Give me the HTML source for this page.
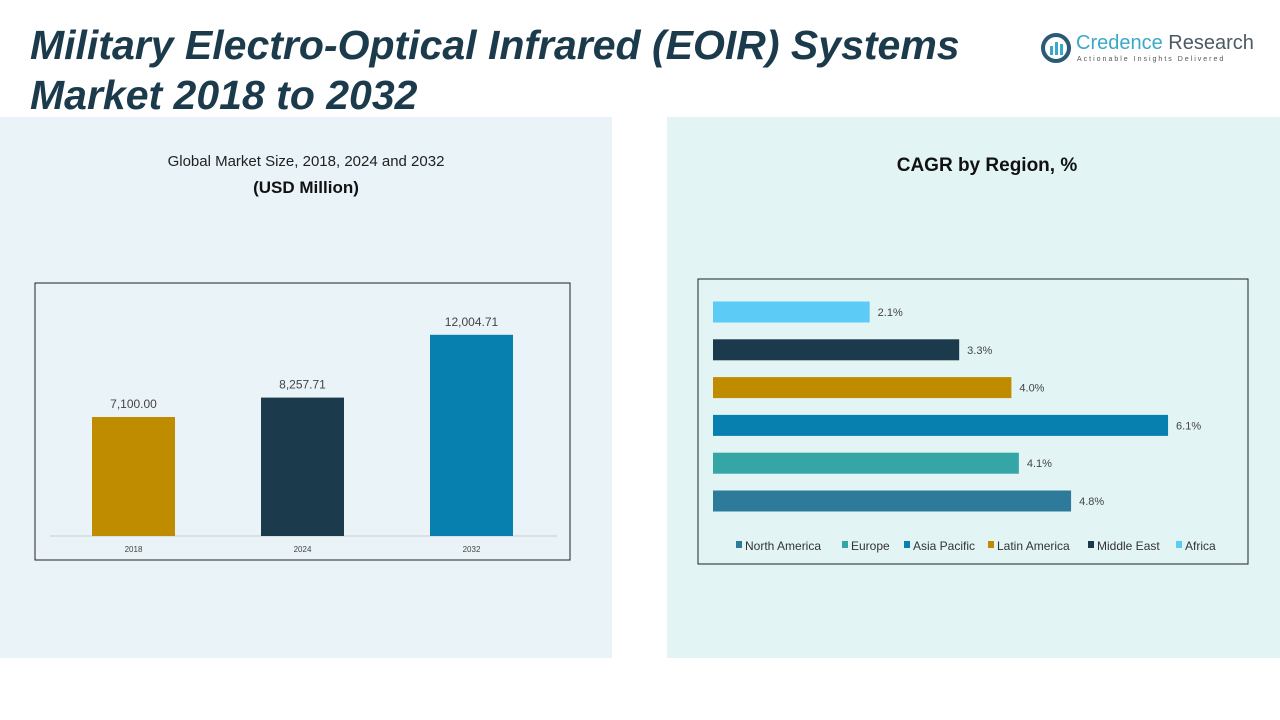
<!DOCTYPE html>
<html><head><meta charset="utf-8"><style>
body{margin:0;width:1280px;height:720px;position:relative;background:#fff;font-family:"Liberation Sans",sans-serif;overflow:hidden}
.abs{position:absolute}
</style></head><body>
<div class="abs" style="left:0;top:117px;width:612px;height:541px;background:#e9f3f8"></div>
<div class="abs" style="left:667px;top:117px;width:613px;height:541px;background:#e3f4f5"></div>
<div class="abs" style="left:30px;top:20px;font-size:41px;font-weight:bold;font-style:italic;color:#1b3a4b;line-height:50px">Military Electro-Optical Infrared (EOIR) Systems<br>Market 2018 to 2032</div>
<div class="abs" style="left:1040px;top:30px;width:230px;height:40px">
<svg width="32" height="32" style="position:absolute;left:0;top:2px"><circle cx="16" cy="16" r="13" fill="none" stroke="#2a5a78" stroke-width="4"/><rect x="10" y="14" width="3" height="9" fill="#3aa8c8"/><rect x="15" y="10" width="3" height="13" fill="#3aa8c8"/><rect x="20" y="12" width="3" height="11" fill="#3aa8c8"/></svg>
<div class="abs" style="left:36px;top:2px;font-size:20px;color:#3aa8c8;white-space:nowrap">Credence <span style="color:#4a5a66">Research</span></div>
<div class="abs" style="left:37px;top:26px;font-size:7px;letter-spacing:2px;color:#555;white-space:nowrap">Actionable Insights Delivered</div>
</div>
<div class="abs" style="left:0;width:612px;top:153px;text-align:center;font-size:15px;color:#222">Global Market Size, 2018, 2024 and 2032</div>
<div class="abs" style="left:0;width:612px;top:178px;text-align:center;font-size:17px;font-weight:bold;color:#111">(USD Million)</div>
<div class="abs" style="left:667px;width:640px;top:155px;text-align:center;font-size:19px;font-weight:bold;color:#111">CAGR by Region, %</div>
<svg class="abs" style="left:0;top:0" width="1280" height="720">
<rect x="35" y="283" width="535" height="277" fill="none" stroke="#222" stroke-width="1"/>
<line x1="50" y1="536" x2="557" y2="536" stroke="#ccc"/>
<g id="bars1"></g>
<rect x="698" y="279" width="550" height="285" fill="none" stroke="#222" stroke-width="1"/>
<g id="bars2"></g>
<g id="legend"></g>
</svg>
<script>
const years=["2018","2024","2032"];
const sizes=[7100.00,8257.71,12004.71];
const sizeLabels=["7,100.00","8,257.71","12,004.71"];
const regions=["Africa","Middle East","Latin America","Asia Pacific","Europe","North America"];
const cagr=[2.1,3.3,4.0,6.1,4.1,4.8];
const NS="http://www.w3.org/2000/svg";
function mk(t,a,p){const e=document.createElementNS(NS,t);for(const k in a)e.setAttribute(k,a[k]);p.appendChild(e);return e;}
const c1=["#bf8c00","#1b3a4b","#0780b0"];
const yS=v=>536-v*0.01676;
const xB=i=>92+i*169;
const g1=document.getElementById('bars1');
years.forEach((y,i)=>{
const r=mk('rect',{x:xB(i),y:yS(sizes[i]),width:83,height:536-yS(sizes[i]),fill:c1[i]},g1);


const t=mk('text',{x:xB(i)+41.5,y:yS(sizes[i])-9,'text-anchor':'middle','font-size':12,fill:'#444','font-family':'Liberation Sans'},g1);t.textContent=sizeLabels[i];


const l=mk('text',{x:xB(i)+41.5,y:552,'text-anchor':'middle','font-size':8,fill:'#444','font-family':'Liberation Sans'},g1);l.textContent=y;


});
const c2={"Africa":"#5ccbf5","Middle East":"#1b3a4b","Latin America":"#bf8c00","Asia Pacific":"#0780b0","Europe":"#35a5a5","North America":"#2e7a9a"};
const xS=v=>713+v*74.6;
const g2=document.getElementById('bars2');
regions.forEach((r,i)=>{
const cy=312+i*37.8;
const b=mk('rect',{x:713,y:cy-10.5,width:xS(cagr[i])-713,height:21,fill:c2[r]},g2);


const t=mk('text',{x:xS(cagr[i])+8,y:cy+4,'font-size':11,fill:'#444','font-family':'Liberation Sans'},g2);t.textContent=cagr[i].toFixed(1)+'%';


});
const leg=["North America","Europe","Asia Pacific","Latin America","Middle East","Africa"];
const lx=[736,842,904,988,1088,1176];
const gl=document.getElementById('legend');
leg.forEach((n,i)=>{
const g=mk('g',{},gl);


mk('rect',{x:lx[i],y:541,width:6,height:7,fill:c2[n]},g);
const t=mk('text',{x:lx[i]+9,y:550,'font-size':12,fill:'#333','font-family':'Liberation Sans'},g);t.textContent=n;
});
</script>
</body></html>
